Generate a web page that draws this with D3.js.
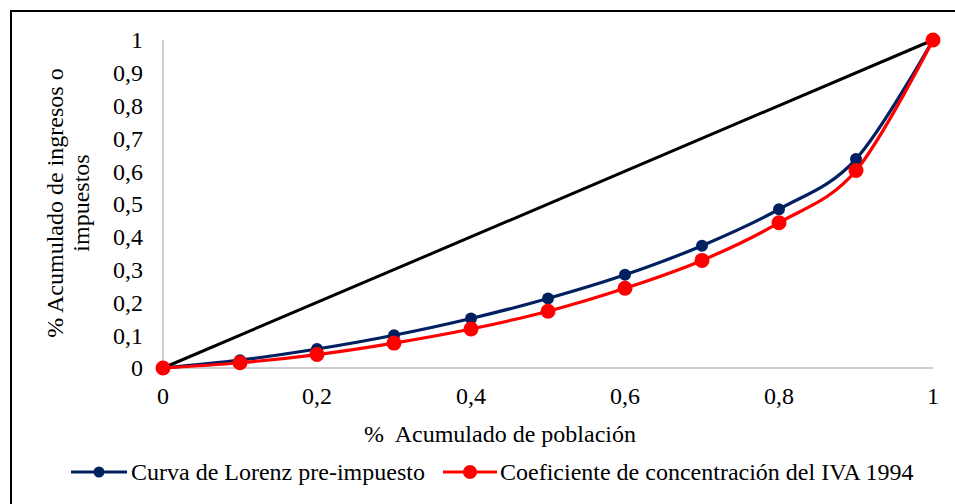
<!DOCTYPE html>
<html><head><meta charset="utf-8">
<script src="https://cdn.jsdelivr.net/npm/d3@7/dist/d3.min.js"></script>
<style>body{margin:0;background:#fff}svg{display:block}</style>
</head><body><svg id="c" width="955" height="504" font-family="'Liberation Serif', Tinos, 'Times New Roman', 'DejaVu Serif', serif"></svg>
<script>
const popX = [0, 0.1, 0.2, 0.3, 0.4, 0.5, 0.6, 0.7, 0.8, 0.9, 1];
const lorenz = [0, 0.024, 0.058, 0.100, 0.151, 0.212, 0.284, 0.373, 0.484, 0.637, 1];
const ivaConc = [0, 0.016, 0.041, 0.076, 0.119, 0.173, 0.243, 0.328, 0.443, 0.602, 1];
const equality = [0, 1];
const xTicks = [0, 0.2, 0.4, 0.6, 0.8, 1];
const yTicks = [0, 0.1, 0.2, 0.3, 0.4, 0.5, 0.6, 0.7, 0.8, 0.9, 1];
const seriesNames = ["Curva de Lorenz pre-impuesto", "Coeficiente de concentración del IVA 1994"];
const xTitle = "%  Acumulado de población";
const yTitle = ["% Acumulado de ingresos o", "impuestos"];

const svg = d3.select("#c");
const fs = 24;
const fmt = v => String(v).replace(".", ",");
svg.append("rect").attr("x", 11).attr("y", 11).attr("width", 1000).attr("height", 1000)
  .attr("fill", "none").attr("stroke", "#000").attr("stroke-width", 2);

const x = d3.scaleLinear().domain([0, 1]).range([163, 933]);
const y = d3.scaleLinear().domain([0, 1]).range([368, 40]);

svg.append("line").attr("x1", x(0)).attr("x2", x(0)).attr("y1", y(1)).attr("y2", y(0))
  .attr("stroke", "#bfbfbf").attr("stroke-width", 1.5);
svg.append("line").attr("x1", x(0)).attr("x2", x(1)).attr("y1", y(0)).attr("y2", y(0))
  .attr("stroke", "#bfbfbf").attr("stroke-width", 1.5);

svg.append("g").selectAll("text").data(yTicks).join("text")
  .attr("x", 143).attr("y", d => y(d)).attr("dy", "0.35em").attr("text-anchor", "end")
  .attr("font-size", fs).text(fmt);
svg.append("g").selectAll("text").data(xTicks).join("text")
  .attr("x", d => x(d)).attr("y", 404).attr("text-anchor", "middle")
  .attr("font-size", fs).text(fmt);

svg.append("text").attr("x", 500).attr("y", 442).attr("text-anchor", "middle")
  .attr("font-size", fs).style("white-space", "pre").text(xTitle);
const yt = svg.append("text").attr("transform", "translate(0,203) rotate(-90)")
  .attr("text-anchor", "middle").attr("font-size", fs);
yt.append("tspan").attr("x", 0).attr("y", 63).text(yTitle[0]);
yt.append("tspan").attr("x", 0).attr("y", 89).text(yTitle[1]);

svg.append("path").datum(equality)
  .attr("d", d3.line().x((d, i) => x(equality[i])).y(d => y(d)))
  .attr("fill", "none").attr("stroke", "#000").attr("stroke-width", 3);

const series = [
  {vals: lorenz, color: "#002060", r: 6},
  {vals: ivaConc, color: "#ff0000", r: 7.5}
];
const line = d3.line().x((d, i) => x(popX[i])).y(d => y(d)).curve(d3.curveCardinal.tension(0));
series.forEach(s => {
  svg.append("path").datum(s.vals).attr("d", line)
    .attr("fill", "none").attr("stroke", s.color).attr("stroke-width", 3.2);
});
series.forEach(s => {
  svg.append("g").selectAll("circle").data(s.vals).join("circle")
    .attr("cx", (d, i) => x(popX[i])).attr("cy", d => y(d)).attr("r", s.r).attr("fill", s.color);
});

const legY = 472;
const legItems = [{x0: 71, x1: 127, tx: 131}, {x0: 443, x1: 497, tx: 500}];
series.forEach((s, i) => {
  const L = legItems[i];
  svg.append("line").attr("x1", L.x0).attr("x2", L.x1).attr("y1", legY).attr("y2", legY)
    .attr("stroke", s.color).attr("stroke-width", 3.2);
  svg.append("circle").attr("cx", (L.x0 + L.x1) / 2).attr("cy", legY).attr("r", s.r - 0.5).attr("fill", s.color);
  svg.append("text").attr("x", L.tx).attr("y", legY).attr("dy", "0.35em").attr("font-size", fs).text(seriesNames[i]);
});
</script></body></html>
